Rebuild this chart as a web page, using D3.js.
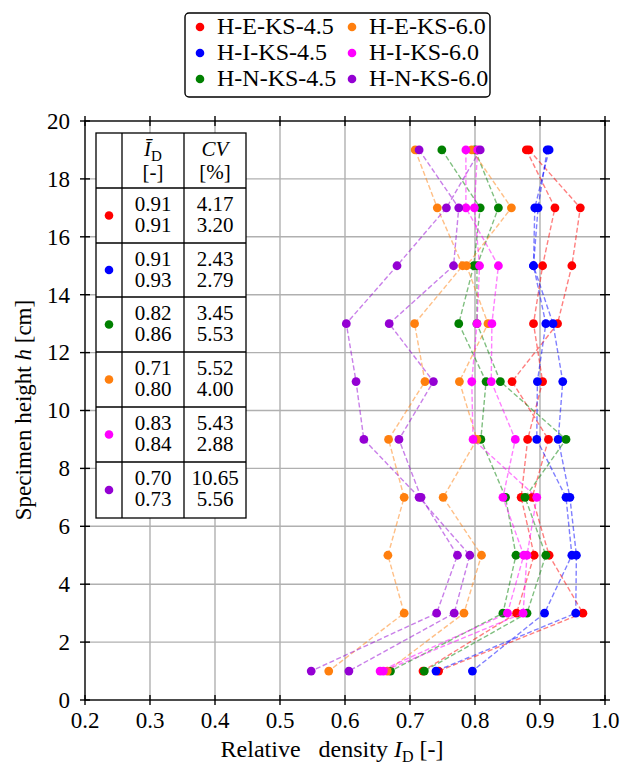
<!DOCTYPE html>
<html>
<head>
<meta charset="utf-8">
<script src="https://cdn.jsdelivr.net/npm/d3@7"></script>
<style>
  body { margin: 0; background: #fff; }
  svg text { font-family: 'Liberation Serif', 'DejaVu Serif', 'Times New Roman', serif; fill: #000; }
</style>
</head>
<body>
<div id="chart"></div>
<script>
// Measurement heights (cm), top to bottom
var heights = [19, 17, 15, 13, 11, 9, 7, 5, 3, 1];

// Series names and colours (plot order)
var seriesNames = ["H-E-KS-4.5", "H-I-KS-4.5", "H-N-KS-4.5", "H-E-KS-6.0", "H-I-KS-6.0", "H-N-KS-6.0"];
var seriesColors = ["#ff0000", "#0000ff", "#008000", "#ff7f0e", "#ff00ff", "#9400d3"];

// Relative density per specimen (two specimens per series)
var heKs45A = [0.879, 0.923, 0.904, 0.890, 0.904, 0.881, 0.871, 0.891, 0.864, 0.720];
var heKs45B = [0.883, 0.962, 0.949, 0.927, 0.857, 0.913, 0.888, 0.914, 0.966, 0.744];
var hiKs45A = [0.914, 0.892, 0.890, 0.909, 0.896, 0.895, 0.940, 0.949, 0.907, 0.796];
var hiKs45B = [0.911, 0.897, 0.890, 0.920, 0.935, 0.928, 0.946, 0.956, 0.955, 0.740];
var hnKs45A = [0.749, 0.808, 0.798, 0.775, 0.817, 0.809, 0.847, 0.863, 0.843, 0.670];
var hnKs45B = [0.800, 0.836, 0.803, 0.803, 0.839, 0.940, 0.877, 0.909, 0.880, 0.722];
var heKs60A = [0.708, 0.742, 0.781, 0.707, 0.723, 0.667, 0.691, 0.666, 0.691, 0.575];
var heKs60B = [0.795, 0.856, 0.787, 0.820, 0.776, 0.803, 0.751, 0.810, 0.783, 0.665];
var hiKs60A = [0.786, 0.786, 0.836, 0.826, 0.825, 0.862, 0.843, 0.875, 0.850, 0.654];
var hiKs60B = [0.804, 0.799, 0.807, 0.803, 0.795, 0.797, 0.895, 0.880, 0.874, 0.659];
var hnKs60A = [0.714, 0.775, 0.767, 0.668, 0.736, 0.683, 0.717, 0.773, 0.741, 0.548];
var hnKs60B = [0.808, 0.756, 0.680, 0.602, 0.617, 0.629, 0.714, 0.792, 0.768, 0.606];

var specimens = [
  [heKs45A, heKs45B], [hiKs45A, hiKs45B], [hnKs45A, hnKs45B],
  [heKs60A, heKs60B], [hiKs60A, hiKs60B], [hnKs60A, hnKs60B]
];

// Table values
var idMeanA = ["0.91", "0.91", "0.82", "0.71", "0.83", "0.70"];
var idMeanB = ["0.91", "0.93", "0.86", "0.80", "0.84", "0.73"];
var cvA = ["4.17", "2.43", "3.45", "5.52", "5.43", "10.65"];
var cvB = ["3.20", "2.79", "5.53", "4.00", "2.88", "5.56"];

// Tick values
var xTicks = [0.2, 0.3, 0.4, 0.5, 0.6, 0.7, 0.8, 0.9, 1.0];
var yTicks = [0, 2, 4, 6, 8, 10, 12, 14, 16, 18, 20];

var svgWidth = 624;
var svgHeight = 769;
var plot = { left: 85, right: 605, top: 121, bottom: 700 };

var svg = d3.select("#chart")
  .append("svg")
  .attr("width", svgWidth)
  .attr("height", svgHeight);

var xScale = d3.scaleLinear().domain([0.2, 1.0]).range([plot.left, plot.right]);
var yScale = d3.scaleLinear().domain([0, 20]).range([plot.bottom, plot.top]);

// grid
var grid = svg.append("g");
grid.selectAll(".gx")
  .data(xTicks.slice(1, -1))
  .enter().append("line")
  .attr("x1", d => xScale(d)).attr("x2", d => xScale(d))
  .attr("y1", plot.top).attr("y2", plot.bottom)
  .attr("stroke", "#b0b0b0").attr("stroke-width", 1.4);
grid.selectAll(".gy")
  .data(yTicks.slice(1, -1))
  .enter().append("line")
  .attr("x1", plot.left).attr("x2", plot.right)
  .attr("y1", d => yScale(d)).attr("y2", d => yScale(d))
  .attr("stroke", "#b0b0b0").attr("stroke-width", 1.4);

// table (drawn over grid, under data)
var colX = [96, 122, 184, 246];
var rowY = [133, 188, 243, 297, 352, 407, 462, 518];
var table = svg.append("g");
table.append("rect")
  .attr("x", colX[0]).attr("y", rowY[0])
  .attr("width", colX[3] - colX[0]).attr("height", rowY[7] - rowY[0])
  .attr("fill", "#fff").attr("stroke", "#000").attr("stroke-width", 1.3);
colX.slice(1, 3).forEach(function(cx) {
  table.append("line").attr("x1", cx).attr("x2", cx)
    .attr("y1", rowY[0]).attr("y2", rowY[7])
    .attr("stroke", "#000").attr("stroke-width", 1.3);
});
rowY.slice(1, 7).forEach(function(ry) {
  table.append("line").attr("x1", colX[0]).attr("x2", colX[3])
    .attr("y1", ry).attr("y2", ry)
    .attr("stroke", "#000").attr("stroke-width", 1.3);
});
var c2 = (colX[1] + colX[2]) / 2, c3 = (colX[2] + colX[3]) / 2;

// header cells: two lines in one text element
var hdr = table.append("text").attr("x", c2).attr("y", rowY[0] + 23)
  .attr("text-anchor", "middle").style("font-size", "21px");
hdr.append("tspan").style("font-style", "italic").text("\u012A");
hdr.append("tspan").attr("dy", 5).style("font-size", "15px").text("D");
hdr.append("tspan").attr("x", c2).attr("dy", 18).text("[-]");
var hdr2 = table.append("text").attr("x", c3).attr("y", rowY[0] + 23)
  .attr("text-anchor", "middle").style("font-size", "21px");
hdr2.append("tspan").style("font-style", "italic").text("CV");
hdr2.append("tspan").attr("x", c3).attr("dy", 23).text("[%]");

seriesColors.forEach(function(col, i) {
  var top = rowY[i + 1], bot = rowY[i + 2];
  table.append("circle").attr("cx", (colX[0] + colX[1]) / 2).attr("cy", (top + bot) / 2)
    .attr("r", 4.3).attr("fill", col);
  [[c2, idMeanA[i], idMeanB[i]], [c3, cvA[i], cvB[i]]].forEach(function(c) {
    var t = table.append("text").attr("x", c[0]).attr("y", top + 23)
      .attr("text-anchor", "middle").style("font-size", "21px");
    t.append("tspan").text(c[1]);
    t.append("tspan").attr("x", c[0]).attr("dy", 21).text(c[2]);
  });
});

// data: dashed lines + markers per specimen
var line = d3.line()
  .x(d => xScale(d.v))
  .y(d => yScale(d.h));

var dataGroup = svg.append("g");
specimens.forEach(function(pair, i) {
  pair.forEach(function(vals) {
    var pts = vals.map((v, k) => ({ v: v, h: heights[k] }));
    dataGroup.append("path")
      .datum(pts)
      .attr("d", line)
      .attr("fill", "none")
      .attr("stroke", seriesColors[i])
      .attr("stroke-opacity", 0.5)
      .attr("stroke-width", 1.4)
      .attr("stroke-dasharray", "5,2.5");
    dataGroup.selectAll(null)
      .data(pts)
      .enter().append("circle")
      .attr("cx", d => xScale(d.v))
      .attr("cy", d => yScale(d.h))
      .attr("r", 4.4)
      .attr("fill", seriesColors[i]);
  });
});

// frame
svg.append("rect")
  .attr("x", plot.left).attr("y", plot.top)
  .attr("width", plot.right - plot.left).attr("height", plot.bottom - plot.top)
  .attr("fill", "none").attr("stroke", "#000").attr("stroke-width", 1.4);

// ticks (in-out on all sides)
var ticks = svg.append("g").attr("stroke", "#000").attr("stroke-width", 1.4);
xTicks.forEach(function(t) {
  [plot.bottom, plot.top].forEach(function(yy) {
    ticks.append("line").attr("x1", xScale(t)).attr("x2", xScale(t))
      .attr("y1", yy - 5).attr("y2", yy + 5);
  });
});
yTicks.forEach(function(t) {
  [plot.left, plot.right].forEach(function(xx) {
    ticks.append("line").attr("x1", xx - 5).attr("x2", xx + 5)
      .attr("y1", yScale(t)).attr("y2", yScale(t));
  });
});

// tick labels
svg.selectAll(".xl")
  .data(xTicks)
  .enter().append("text")
  .attr("x", d => xScale(d))
  .attr("y", 728)
  .attr("text-anchor", "middle")
  .style("font-size", "23px")
  .text(d => d3.format(".1f")(d));
svg.selectAll(".yl")
  .data(yTicks)
  .enter().append("text")
  .attr("x", 70)
  .attr("y", d => yScale(d))
  .attr("dy", "0.34em")
  .attr("text-anchor", "end")
  .style("font-size", "23px")
  .text(d => d);

// axis titles
var xt = svg.append("text")
  .attr("x", 332).attr("y", 757)
  .attr("text-anchor", "middle")
  .style("font-size", "24px")
  .style("white-space", "pre");
xt.append("tspan").text("Relative   density ");
xt.append("tspan").style("font-style", "italic").text("I");
xt.append("tspan").attr("dy", 5).style("font-size", "16px").text("D");
xt.append("tspan").attr("dy", -5).text(" [-]");

var yt = svg.append("text")
  .attr("transform", "translate(31, 410) rotate(-90)")
  .attr("text-anchor", "middle")
  .style("font-size", "23px");
yt.append("tspan").text("Specimen height ");
yt.append("tspan").style("font-style", "italic").text("h");
yt.append("tspan").text(" [cm]");

// legend
var legend = svg.append("g");
legend.append("rect")
  .attr("x", 185).attr("y", 13).attr("width", 305).attr("height", 84)
  .attr("rx", 4).attr("fill", "#fff").attr("stroke", "#000").attr("stroke-width", 1.4);
seriesNames.forEach(function(name, i) {
  var col = Math.floor(i / 3), row = i % 3;
  var mx = col === 0 ? 200 : 352;
  var ty = 34 + row * 26;
  legend.append("circle").attr("cx", mx).attr("cy", ty - 7).attr("r", 4.3)
    .attr("fill", seriesColors[i]);
  legend.append("text").attr("x", mx + 17).attr("y", ty)
    .style("font-size", "24px").text(name);
});
</script>
</body>
</html>
